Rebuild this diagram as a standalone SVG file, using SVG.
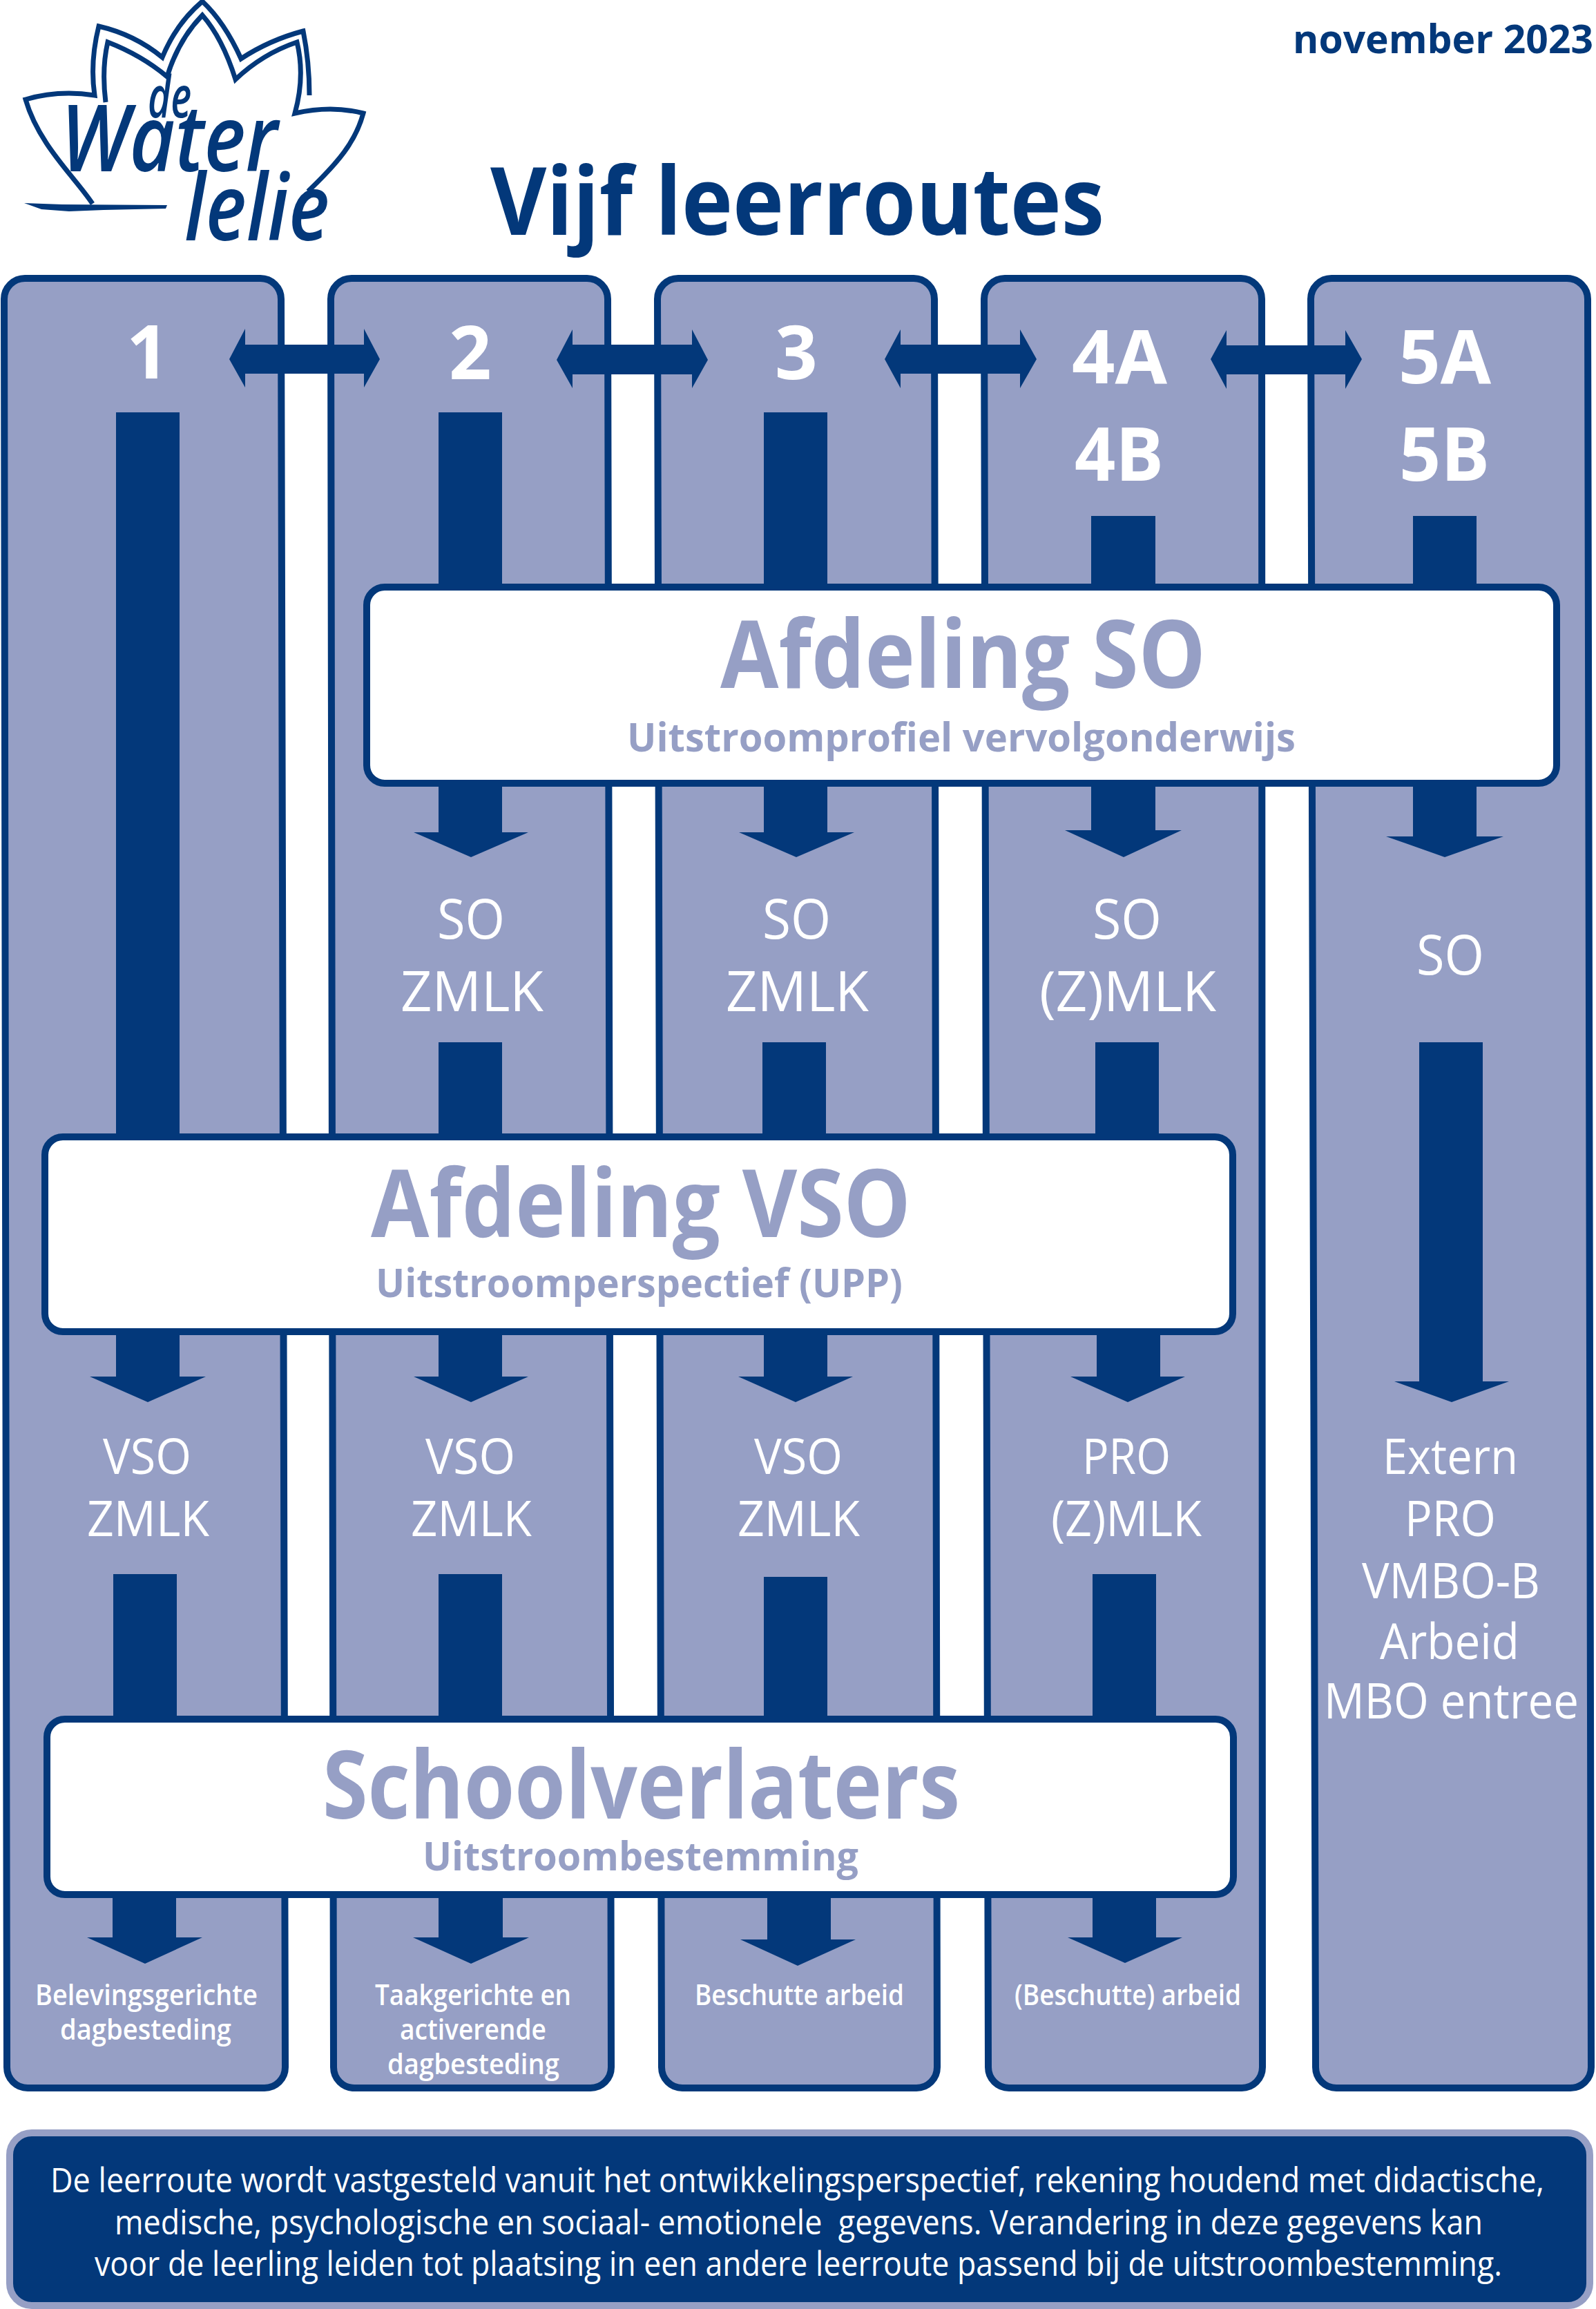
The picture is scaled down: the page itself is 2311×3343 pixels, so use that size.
<svg xmlns="http://www.w3.org/2000/svg" width="2311" height="3343" viewBox="0 0 2311 3343">
<style>
text{font-family:"Open Sans","Noto Sans","Liberation Sans",sans-serif;}
.panel{fill:#969fc5;stroke:#03387a;stroke-width:10;}
.box{fill:#fff;stroke:#03387a;stroke-width:10;}
.arr{fill:#03387a;}
.num{fill:#fff;font-weight:700;font-size:108px;}
.lab{fill:#fff;font-size:80px;}
.lab2{fill:#fff;font-size:72px;}
.small{fill:#fff;font-size:41px;font-weight:600;}
.head{fill:#969fc5;font-weight:700;font-size:136px;}
.sub{fill:#969fc5;font-weight:700;font-size:58px;}
.logo{fill:none;stroke:#03387a;stroke-width:7;stroke-linejoin:miter;}
.lt{fill:#03387a;font-style:italic;font-weight:600;}
.foot{fill:#fff;font-size:50px;}
</style>
<g id="logo">
<path class="logo" d="M134 295C110 258 56 210 37 144Q85 130 137 138Q130 90 143 38Q195 50 235 83Q255 34 293 2Q325 32 349 85Q390 58 439 45Q448 90 448 138"/>
<path class="logo" d="M153 148Q147 100 156 61Q205 80 242 111Q258 58 293 22Q322 55 341 115Q380 78 430 61Q442 110 427 164Q480 152 526 164C515 205 490 235 446 277"/>
<path class="arr" d="M35 294L90 296L242 297L240 302L150 304L100 306L60 303Z"/>
<text class="lt" x="214" y="170" font-size="84" textLength="63" lengthAdjust="spacingAndGlyphs">de</text>
<text class="lt" x="88" y="248" font-size="134" textLength="314" lengthAdjust="spacingAndGlyphs">Water</text>
<text class="lt" x="267" y="348" font-size="134" textLength="210" lengthAdjust="spacingAndGlyphs">lelie</text>
</g>
<g id="header">
<text x="1872" y="77" font-size="58" font-weight="700" fill="#03387a" textLength="435" lengthAdjust="spacingAndGlyphs">november 2023</text>
<text x="710" y="340" font-size="136" font-weight="700" fill="#03387a" textLength="889" lengthAdjust="spacingAndGlyphs">Vijf leerroutes</text>
</g>
<g id="route-1">
<path class="panel" d="M36 403H377A30 30 0 0 1 407 433L413 2993A30 30 0 0 1 383 3023H40A30 30 0 0 1 10 2993L6 433A30 30 0 0 1 36 403Z"/>
<text class="num" x="183" y="548">1</text>
<text class="lab2" x="149" y="2134" textLength="128" lengthAdjust="spacingAndGlyphs">VSO</text>
<text class="lab2" x="126" y="2224" textLength="177" lengthAdjust="spacingAndGlyphs">ZMLK</text>
<text class="small" x="51" y="2903" textLength="322" lengthAdjust="spacingAndGlyphs">Belevingsgerichte</text>
<text class="small" x="87" y="2953" textLength="248" lengthAdjust="spacingAndGlyphs">dagbesteding</text>
</g>
<g id="route-2">
<path class="panel" d="M509 403H850A30 30 0 0 1 880 433L885 2993A30 30 0 0 1 855 3023H513A30 30 0 0 1 483 2993L479 433A30 30 0 0 1 509 403Z"/>
<text class="num" x="650" y="549">2</text>
<text class="lab" x="633" y="1359" textLength="98" lengthAdjust="spacingAndGlyphs">SO</text>
<text class="lab" x="580" y="1464" textLength="207" lengthAdjust="spacingAndGlyphs">ZMLK</text>
<text class="lab2" x="616" y="2134" textLength="130" lengthAdjust="spacingAndGlyphs">VSO</text>
<text class="lab2" x="595" y="2224" textLength="175" lengthAdjust="spacingAndGlyphs">ZMLK</text>
<text class="small" x="543" y="2903" textLength="284" lengthAdjust="spacingAndGlyphs">Taakgerichte en</text>
<text class="small" x="579" y="2953" textLength="212" lengthAdjust="spacingAndGlyphs">activerende</text>
<text class="small" x="561" y="3003" textLength="249" lengthAdjust="spacingAndGlyphs">dagbesteding</text>
</g>
<g id="route-3">
<path class="panel" d="M982 403H1323A30 30 0 0 1 1353 433L1357 2993A30 30 0 0 1 1327 3023H988A30 30 0 0 1 958 2993L952 433A30 30 0 0 1 982 403Z"/>
<text class="num" x="1122" y="549">3</text>
<text class="lab" x="1104" y="1359" textLength="99" lengthAdjust="spacingAndGlyphs">SO</text>
<text class="lab" x="1051" y="1464" textLength="207" lengthAdjust="spacingAndGlyphs">ZMLK</text>
<text class="lab2" x="1092" y="2134" textLength="128" lengthAdjust="spacingAndGlyphs">VSO</text>
<text class="lab2" x="1068" y="2224" textLength="177" lengthAdjust="spacingAndGlyphs">ZMLK</text>
<text class="small" x="1006" y="2903" textLength="303" lengthAdjust="spacingAndGlyphs">Beschutte arbeid</text>
</g>
<g id="route-4">
<path class="panel" d="M1455 403H1797A30 30 0 0 1 1827 433L1828 2993A30 30 0 0 1 1798 3023H1461A30 30 0 0 1 1431 2993L1425 433A30 30 0 0 1 1455 403Z"/>
<text class="num" x="1552" y="555" textLength="138" lengthAdjust="spacingAndGlyphs">4A</text>
<text class="num" x="1556" y="696" textLength="129" lengthAdjust="spacingAndGlyphs">4B</text>
<text class="lab" x="1582" y="1359" textLength="100" lengthAdjust="spacingAndGlyphs">SO</text>
<text class="lab" x="1505" y="1464" textLength="256" lengthAdjust="spacingAndGlyphs">(Z)MLK</text>
<text class="lab2" x="1567" y="2134" textLength="128" lengthAdjust="spacingAndGlyphs">PRO</text>
<text class="lab2" x="1522" y="2224" textLength="218" lengthAdjust="spacingAndGlyphs">(Z)MLK</text>
<text class="small" x="1469" y="2903" textLength="328" lengthAdjust="spacingAndGlyphs">(Beschutte) arbeid</text>
</g>
<g id="route-5">
<path class="panel" d="M1928 403H2269A30 30 0 0 1 2299 433L2304 2993A30 30 0 0 1 2274 3023H1935A30 30 0 0 1 1905 2993L1898 433A30 30 0 0 1 1928 403Z"/>
<text class="num" x="2025" y="555" textLength="134" lengthAdjust="spacingAndGlyphs">5A</text>
<text class="num" x="2026" y="696" textLength="131" lengthAdjust="spacingAndGlyphs">5B</text>
<text class="lab" x="2051" y="1411" textLength="98" lengthAdjust="spacingAndGlyphs">SO</text>
<text class="lab2" x="2002" y="2134" textLength="196" lengthAdjust="spacingAndGlyphs">Extern</text>
<text class="lab2" x="2034" y="2224" textLength="132" lengthAdjust="spacingAndGlyphs">PRO</text>
<text class="lab2" x="1972" y="2314" textLength="258" lengthAdjust="spacingAndGlyphs">VMBO-B</text>
<text class="lab2" x="1998" y="2402" textLength="202" lengthAdjust="spacingAndGlyphs">Arbeid</text>
<text class="lab2" x="1917" y="2488" textLength="369" lengthAdjust="spacingAndGlyphs">MBO entree</text>
</g>
<g id="connectors">
<path class="arr" d="M332 520L355 476V499H527V476L550 520L527 561V541H355V561Z"/>
<path class="arr" d="M806 521L829 477V499H1002V477L1025 521L1002 562V542H829V562Z"/>
<path class="arr" d="M1281 520L1304 477V499H1477V477L1501 520L1477 562V541H1304V562Z"/>
<path class="arr" d="M1753 520L1776 478V500H1948V478L1972 520L1948 563V542H1776V563Z"/>
<rect class="arr" x="168" y="597" width="92" height="1060"/>
<rect class="arr" x="635" y="597" width="92" height="260"/>
<rect class="arr" x="1106" y="597" width="92" height="260"/>
<rect class="arr" x="1580" y="747" width="93" height="110"/>
<rect class="arr" x="2046" y="747" width="92" height="110"/>
<path class="arr" d="M635 1130H727V1205H765L682 1241L599 1205H635Z"/>
<path class="arr" d="M1106 1130H1198V1205H1237L1153 1241L1070 1205H1106Z"/>
<path class="arr" d="M1580 1130H1673V1202H1711L1627 1241L1542 1202H1580Z"/>
<path class="arr" d="M2046 1130H2138V1211H2177L2092 1241L2007 1211H2046Z"/>
<rect class="arr" x="635" y="1509" width="92" height="145"/>
<rect class="arr" x="1104" y="1509" width="92" height="145"/>
<rect class="arr" x="1586" y="1509" width="92" height="145"/>
<path class="arr" d="M2055 1509H2147V2000H2185L2102 2030L2019 2000H2055Z"/>
<path class="arr" d="M168 1920H260V1993H298L214 2030L130 1993H168Z"/>
<path class="arr" d="M635 1920H727V1993H765L682 2030L599 1993H635Z"/>
<path class="arr" d="M1106 1920H1198V1993H1235L1152 2030L1069 1993H1106Z"/>
<path class="arr" d="M1588 1920H1680V1993H1716L1633 2030L1550 1993H1588Z"/>
<rect class="arr" x="164" y="2279" width="92" height="215"/>
<rect class="arr" x="635" y="2279" width="92" height="215"/>
<rect class="arr" x="1106" y="2283" width="92" height="211"/>
<rect class="arr" x="1582" y="2279" width="92" height="215"/>
<path class="arr" d="M163 2735H255V2805H293L210 2843L126 2805H163Z"/>
<path class="arr" d="M635 2735H728V2805H766L682 2843L598 2805H635Z"/>
<path class="arr" d="M1111 2735H1203V2808H1239L1155 2846L1072 2808H1111Z"/>
<path class="arr" d="M1582 2735H1674V2805H1712L1629 2842L1546 2805H1582Z"/>
</g>
<g id="afdeling-so">
<rect class="box" x="531" y="850" width="1723" height="284" rx="26"/>
<text class="head" x="1043" y="996" textLength="703" lengthAdjust="spacingAndGlyphs">Afdeling SO</text>
<text class="sub" x="908" y="1088" textLength="968" lengthAdjust="spacingAndGlyphs">Uitstroomprofiel vervolgonderwijs</text>
</g>
<g id="afdeling-vso">
<rect class="box" x="65" y="1646" width="1720" height="282" rx="26"/>
<text class="head" x="537" y="1791" textLength="782" lengthAdjust="spacingAndGlyphs">Afdeling VSO</text>
<text class="sub" x="544" y="1878" textLength="763" lengthAdjust="spacingAndGlyphs">Uitstroomperspectief (UPP)</text>
</g>
<g id="schoolverlaters">
<rect class="box" x="68" y="2489" width="1718" height="254" rx="26"/>
<text class="head" x="467" y="2633" textLength="923" lengthAdjust="spacingAndGlyphs">Schoolverlaters</text>
<text class="sub" x="612" y="2708" textLength="631" lengthAdjust="spacingAndGlyphs">Uitstroombestemming</text>
</g>
<g id="toelichting">
<rect x="14" y="3088" width="2288" height="250" rx="32" fill="#03387a" stroke="#969fc5" stroke-width="10"/>
<text class="foot" x="73" y="3174" textLength="2163" lengthAdjust="spacingAndGlyphs">De leerroute wordt vastgesteld vanuit het ontwikkelingsperspectief, rekening houdend met didactische,</text>
<text class="foot" x="166" y="3235" textLength="1981" lengthAdjust="spacingAndGlyphs" xml:space="preserve">medische, psychologische en sociaal- emotionele  gegevens. Verandering in deze gegevens kan</text>
<text class="foot" x="137" y="3295" textLength="2038" lengthAdjust="spacingAndGlyphs">voor de leerling leiden tot plaatsing in een andere leerroute passend bij de uitstroombestemming.</text>
</g>
</svg>
